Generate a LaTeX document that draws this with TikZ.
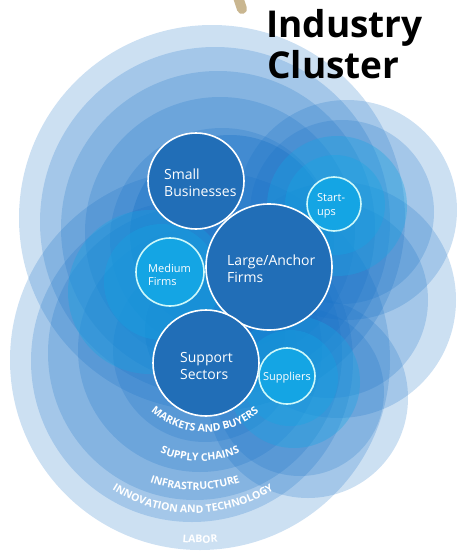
\documentclass[tikz,border=0pt]{standalone}
\usepackage{fontspec}
\setmainfont{Open Sans}
\usetikzlibrary{decorations.text}
\definecolor{layerblue}{RGB}{22,112,198}
\definecolor{cyanblue}{RGB}{20,165,228}
\definecolor{deepblue}{RGB}{33,110,183}
\definecolor{ringcyan}{RGB}{205,248,250}
\definecolor{tan}{RGB}{201,182,144}
\tikzset{
  band/.style={fill=layerblue, fill opacity=0.22},
  core/.style={fill=layerblue, fill opacity=0.35},
  glow/.style={fill=cyanblue, fill opacity=0.34},
  bigfirm/.style={circle, draw=white, line width=1.6pt, fill=deepblue, inner sep=0pt},
  smallfirm/.style={circle, draw=ringcyan, line width=1.6pt, fill=cyanblue, inner sep=0pt},
  bigtext/.style={text=white, font=\fontsize{14}{17}\selectfont, align=left, inner sep=0pt},
  smalltext/.style={text=white, font=\fontsize{11}{13.5}\selectfont, align=left, inner sep=0pt},
  ringlabel/.style={decorate, decoration={text along path, text align=center,
    text color=white, text={|\bfseries\fontsize{10.5}{11}\selectfont|#1}}},
  titletext/.style={anchor=base west, inner sep=0pt, font=\bfseries\fontsize{37}{40}\selectfont},
}
\begin{document}
\begin{tikzpicture}[x=1pt,y=-1pt]
\useasboundingbox (0,0) rectangle (457,557);

% tip of the pin above the title
\draw[tan, line width=10pt, line cap=round] (237,-6) -- (242,9);

% main blue bands: labor
\path[band] (200,360) circle[radius=190];
\path[band] (212,218) circle[radius=193];
% innovation and technology
\path[band] (192,361) circle[radius=161];
\path[band] (215,222) circle[radius=175];
% infrastructure
\path[band] (195,353) circle[radius=147];
\path[band] (218,228) circle[radius=157];
% supply chains
\path[band] (200,350) circle[radius=122];
\path[band] (220,232) circle[radius=135];
% markets and buyers
\path[band] (205,350) circle[radius=92];
\path[band] (222,240) circle[radius=112];

% side lobes on the right
\path[band] (347,210) circle[radius=110];
\path[band] (342,212) circle[radius=92];
\path[band] (338,300) circle[radius=118];
\path[band] (330,300) circle[radius=98];
\path[band] (308,398) circle[radius=100];
\path[band] (300,392) circle[radius=84];

% dark core round the larger firms
\path[core] (230,235) circle[radius=100];
\path[core] (215,330) circle[radius=70];

% cyan rings round the smaller firms
\path[glow] (337,206) circle[radius=70];
\path[glow] (335,205) circle[radius=50];
\path[glow] (294,382) circle[radius=66];
\path[glow] (290,378) circle[radius=48];
\path[glow] (150,292) circle[radius=82];
\path[glow] (162,282) circle[radius=58];

% firms
\node[bigfirm, minimum size=96pt] (small) at (196,181) {};
\node[bigtext, anchor=west] (smallt) at (164,183) {Small\\Businesses};
\node[bigfirm, minimum size=126pt] (large) at (269,267) {};
\node[bigtext, anchor=west] (larget) at (227,269) {Large/Anchor\\Firms};
\node[smallfirm, minimum size=54pt] (start) at (334,204) {};
\node[smalltext, anchor=west] (startt) at (317,206) {Start-\\ups};
\node[smallfirm, minimum size=68pt] (medium) at (170,272) {};
\node[smalltext, anchor=west] (mediumt) at (148,275) {Medium\\Firms};
\node[bigfirm, minimum size=106pt] (support) at (206,363) {};
\node[bigtext, anchor=west] (supportt) at (180,366) {Support\\Sectors};
\node[smallfirm, minimum size=56pt] (suppliers) at (287,376) {};
\node[smalltext] (supplierst) at (287,378) {Suppliers};

% ring captions
\path[ringlabel={MARKETS AND BUYERS}]
  (205,350) ++(146:82) arc[start angle=146, end angle=34, radius=82];
\path[ringlabel={SUPPLY CHAINS}]
  (200,360) ++(135:101) arc[start angle=135, end angle=45, radius=101];
\path[ringlabel={INFRASTRUCTURE}]
  (195,355) ++(135:135) arc[start angle=135, end angle=45, radius=135];
\path[ringlabel={INNOVATION AND TECHNOLOGY}]
  (193,361) ++(150:152) arc[start angle=150, end angle=30, radius=152];
\path[ringlabel={LABOR}]
  (200,356) ++(120:187) arc[start angle=120, end angle=60, radius=187];

% title
\node[titletext] (title1) at (266,37) {Industry};
\node[titletext] (title2) at (267,78) {Cluster};
\end{tikzpicture}
\end{document}
